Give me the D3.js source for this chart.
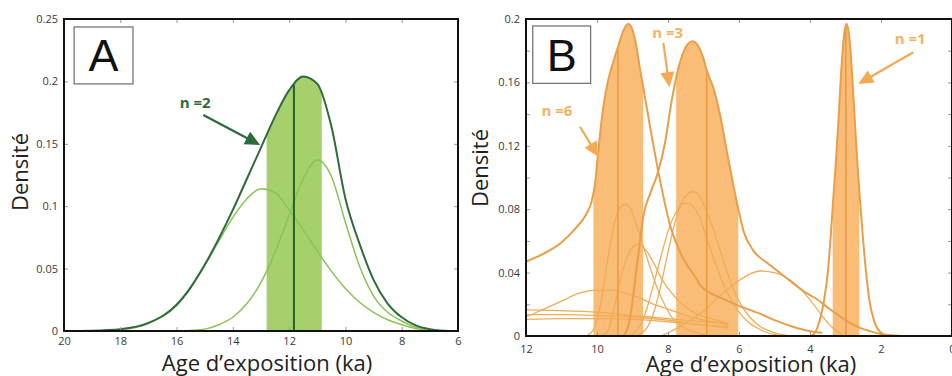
<!DOCTYPE html>
<html><head><meta charset="utf-8">
<script src="https://cdn.jsdelivr.net/npm/d3@7"></script>
<style>body{margin:0;background:#fff} svg{display:block;font-family:"Open Sans",sans-serif}</style>
</head><body>
<svg id="c" width="952" height="376"></svg>
<script>
// ---------- Panel A data ----------
const xTicksA = [20,18,16,14,12,10,8,6];
const yTicksA = [0,0.05,0.1,0.15,0.2,0.25];
const yLabelsA = ["0","0.05","0.1","0.15","0.2","0.25"];
const envA = [[20,0],[19,0.0003],[18,0.0015],[17,0.0065],[16,0.021],[15.5,0.035],[15,0.053],[14.5,0.074],[14,0.097],[13.5,0.122],[13,0.147],[12.5,0.172],[12,0.193],[11.5,0.204],[11,0.198],[10.5,0.164],[10,0.106],[9.5,0.07],[9,0.041],[8.5,0.022],[8,0.011],[7.5,0.0045],[7,0.0015],[6.5,0.0003],[6,0]];
const sampleA1 = [[19,0],[18,0.001],[17,0.006],[16,0.0205],[15.5,0.0345],[15,0.0525],[14.5,0.072],[14,0.091],[13.5,0.106],[13,0.114],[12.5,0.111],[12,0.097],[11.5,0.081],[11,0.064],[10.5,0.048],[10,0.034],[9.5,0.023],[9,0.015],[8.5,0.009],[8,0.005],[7.5,0.002],[7,0.0005],[6.5,0]];
const sampleA2 = [[16,0],[15.5,0.0005],[15,0.0015],[14.5,0.005],[14,0.011],[13.5,0.022],[13,0.039],[12.5,0.063],[12,0.093],[11.5,0.122],[11,0.137],[10.5,0.124],[10,0.087],[9.5,0.052],[9,0.028],[8.5,0.015],[8,0.008],[7.5,0.003],[7,0.001],[6.5,0]];
const bandA = [12.8, 10.84];
const medianA = [11.83, 0.197];
const labelA = {text:"n =2", at:[15.34,0.1785], from:[15.05,0.173], to:[13.03,0.149]};
const boxA = {text:"A", x0:19.64, x1:17.55, y0:0.2436, y1:0.198};

// ---------- Panel B data ----------
const xTicksB = [12,10,8,6,4,2,0];
const yTicksB = [0,0.02,0.04,0.06,0.08,0.1,0.12,0.14,0.16,0.18,0.2];
const yLabelsB = ["0","","0.04","","0.08","","0.12","","0.16","","0.2"];
const envB6 = [[12,0.047],[11.5,0.052],[11,0.059],[10.6,0.068],[10.3,0.077],[10.15,0.085],[10.05,0.097],[9.97,0.115],[9.85,0.14],[9.7,0.16],[9.58,0.17],[9.4,0.183],[9.25,0.193],[9.12,0.197],[9.0,0.193],[8.9,0.184],[8.8,0.17],[8.69,0.156],[8.59,0.143],[8.45,0.125],[8.31,0.108],[8.15,0.09],[7.93,0.069],[7.7,0.055],[7.5,0.046],[7.28,0.039],[7.09,0.032],[6.8,0.027],[6.52,0.024],[6.0,0.019],[5.4,0.014],[5.0,0.01],[4.5,0.006],[4.0,0.003],[3.65,0.002]];
const envB3 = [[9.25,0],[9.1,0.008],[9.0,0.022],[8.9,0.04],[8.8,0.058],[8.7,0.075],[8.5,0.09],[8.3,0.102],[8.1,0.12],[7.9,0.148],[7.75,0.165],[7.6,0.177],[7.45,0.184],[7.32,0.186],[7.15,0.183],[7.0,0.175],[6.9,0.167],[6.7,0.155],[6.52,0.138],[6.33,0.115],[6.15,0.094],[6.0,0.078],[5.87,0.066],[5.6,0.054],[5.2,0.046],[4.8,0.039],[4.46,0.033],[4.1,0.027],[3.79,0.023],[3.45,0.017],[3.13,0.012],[2.85,0.008],[2.57,0.005],[2.3,0.003],[2.0,0.0012],[1.6,0.0003],[1.4,0]];
const envB1 = [[4.0,0],[3.9,0.001],[3.75,0.008],[3.6,0.023],[3.5,0.04],[3.42,0.062],[3.35,0.085],[3.28,0.107],[3.2,0.135],[3.14,0.16],[3.05,0.188],[2.97,0.197],[2.89,0.188],[2.8,0.16],[2.73,0.133],[2.66,0.107],[2.59,0.085],[2.52,0.065],[2.42,0.04],[2.33,0.023],[2.2,0.01],[2.0,0.002],[1.8,0]];
const sampleB1 = [[10.3,0],[10.1,0.004],[9.9,0.02],[9.7,0.048],[9.5,0.072],[9.35,0.081],[9.2,0.083],[9.05,0.08],[8.9,0.071],[8.7,0.057],[8.5,0.043],[8.3,0.03],[8.1,0.02],[7.9,0.012],[7.6,0.006],[7.2,0.002],[6.6,0]];
const sampleB2 = [[9.9,0],[9.7,0.003],[9.55,0.014],[9.4,0.03],[9.2,0.047],[9.0,0.056],[8.85,0.058],[8.65,0.055],[8.4,0.046],[8.2,0.037],[8.0,0.03],[7.6,0.02],[7.2,0.014],[6.8,0.011],[6.3,0.008]];
const sampleB3 = [[8.9,0],[8.6,0.005],[8.4,0.015],[8.2,0.032],[8.0,0.053],[7.8,0.072],[7.6,0.085],[7.3,0.091],[7.1,0.088],[6.9,0.078],[6.7,0.066],[6.5,0.052],[6.3,0.038],[6.0,0.022],[5.7,0.012],[5.4,0.006],[5.0,0.002],[4.5,0]];
const sampleB4 = [[9.1,0],[8.8,0.006],[8.6,0.017],[8.4,0.033],[8.2,0.05],[8.0,0.066],[7.8,0.077],[7.5,0.084],[7.3,0.082],[7.1,0.074],[6.9,0.061],[6.7,0.048],[6.5,0.036],[6.3,0.026],[6.0,0.015],[5.7,0.008],[5.3,0.003],[4.8,0]];
const sampleB5 = [[8.2,0],[8.0,0.002],[7.5,0.008],[7.0,0.016],[6.5,0.026],[6.0,0.035],[5.7,0.039],[5.4,0.041],[5.0,0.04],[4.6,0.036],[4.2,0.028],[3.9,0.02],[3.6,0.011],[3.3,0.004],[3.1,0.001]];
const sampleB6 = [[12,0.012],[11.5,0.017],[11,0.022],[10.5,0.027],[10,0.029],[9.6,0.029],[9.2,0.027],[8.8,0.024],[8.4,0.02],[8,0.017],[7.5,0.013],[7,0.01],[6.5,0.008],[6.3,0.007]];
const sampleB7 = [[12,0.0165],[11,0.016],[10,0.015],[9,0.013],[8,0.011],[7,0.009],[6.3,0.008]];
const sampleB8 = [[12,0.0135],[11,0.0135],[10,0.013],[9,0.012],[8,0.01],[7,0.007],[6.3,0.006]];
const sampleB9 = [[12,0.0105],[11,0.011],[10,0.011],[9,0.0105],[8,0.009],[7,0.007],[6.3,0.005]];
const bandsB = [[10.1,8.7],[7.77,6.02],[3.36,2.61]];
const mediansB = [[9.41,0.181],[6.91,0.167],[2.99,0.197]];
const labelsB = [
  {text:"n =6", at:[11.13,0.139], from:[10.48,0.132], to:[9.96,0.113]},
  {text:"n =3", at:[8.01,0.188], from:[8.13,0.185], to:[7.96,0.157]},
  {text:"n =1", at:[1.18,0.184], from:[1.09,0.179], to:[2.64,0.159]}
];
const boxB = {text:"B", x0:11.81, x1:10.18, y0:0.1956, y1:0.1594};

// ---------- drawing ----------
const svg = d3.select("#c");
const defs = svg.append("defs");

function arrow(g, x1, y1, x2, y2, color, hl, hw, lw){
  const dx=x2-x1, dy=y2-y1, L=Math.hypot(dx,dy), ux=dx/L, uy=dy/L;
  const bx=x2-ux*hl, by=y2-uy*hl;
  g.append("line").attr("x1",x1).attr("y1",y1).attr("x2",bx+ux*2).attr("y2",by+uy*2)
    .attr("stroke",color).attr("stroke-width",lw);
  g.append("path").attr("d",`M${x2},${y2}L${bx-uy*hw},${by+ux*hw}L${bx+uy*hw},${by-ux*hw}Z`).attr("fill",color);
}

function panel(o){
  const {x,y,id} = o;
  const g = svg.append("g");
  const [X0,X1] = x.range(), [Y0,Y1] = y.range();
  const line = d3.line().x(d=>x(d[0])).y(d=>y(d[1])).curve(d3.curveMonotoneX);
  const area = d3.area().x(d=>x(d[0])).y0(y(0)).y1(d=>y(d[1])).curve(d3.curveMonotoneX);

  o.bands.forEach((b,i)=>{
    const cid = `clip${id}${i}`;
    defs.append("clipPath").attr("id",cid).append("rect")
      .attr("x",x(b[0])).attr("y",Y1).attr("width",x(b[1])-x(b[0])).attr("height",Y0-Y1);
    g.append("path").attr("d",area(o.bandEnv[i])).attr("fill",o.fill).attr("clip-path",`url(#${cid})`);
  });
  o.samples.forEach(s=>g.append("path").attr("d",line(s)).attr("fill","none")
    .attr("stroke",o.sampleColor).attr("stroke-width",o.sampleW));
  o.medians.forEach(m=>g.append("line").attr("x1",x(m[0])).attr("x2",x(m[0]))
    .attr("y1",y(0)).attr("y2",y(m[1])).attr("stroke",o.medColor).attr("stroke-width",o.medW));
  o.envs.forEach(e=>g.append("path").attr("d",line(e)).attr("fill","none")
    .attr("stroke",o.envColor).attr("stroke-width",2));

  const ax = g.append("g").attr("transform",`translate(0,${Y0})`)
    .call(d3.axisBottom(x).tickValues(o.xTicks).tickSize(-4).tickPadding(o.xPad).tickFormat(d3.format("d")));
  const ay = g.append("g").attr("transform",`translate(${X0},0)`)
    .call(d3.axisLeft(y).tickValues(o.yTicks).tickSize(-4).tickPadding(6).tickFormat((d,i)=>o.yLabels[i]));
  const at = g.append("g").attr("transform",`translate(0,${Y1})`)
    .call(d3.axisTop(x).tickValues(o.xTicks).tickSize(-4).tickFormat(""));
  const ar = g.append("g").attr("transform",`translate(${X1},0)`)
    .call(d3.axisRight(y).tickValues(o.yTicks).tickSize(-4).tickFormat(""));
  [ax,ay,at,ar].forEach(a=>{
    a.select(".domain").remove();
    a.selectAll(".tick line").attr("stroke","#999").attr("stroke-width",1);
    a.selectAll("text").attr("fill","#3a3a3a").style("font-family","'Open Sans',sans-serif").style("font-size","11px");
  });
  g.append("rect").attr("x",X0).attr("y",Y1).attr("width",X1-X0).attr("height",Y0-Y1)
    .attr("fill","none").attr("stroke","#111").attr("stroke-width",2);

  const b=o.box;
  g.append("rect").attr("x",x(b.x0)).attr("y",y(b.y0)).attr("width",x(b.x1)-x(b.x0)).attr("height",y(b.y1)-y(b.y0))
    .attr("fill","#fff").attr("stroke","#777").attr("stroke-width",1.3);
  g.append("text").attr("x",(x(b.x0)+x(b.x1))/2).attr("y",(y(b.y0)+y(b.y1))/2+16)
    .attr("text-anchor","middle").style("font-family","'Liberation Sans',Arial,sans-serif")
    .style("font-size","45px").attr("fill","#111").text(b.text);

  o.labels.forEach(l=>{
    arrow(g, x(l.from[0]), y(l.from[1]), x(l.to[0]), y(l.to[1]), o.arrowColor, 15, 7, 2.2);
    g.append("text").attr("x",x(l.at[0])).attr("y",y(l.at[1])).attr("text-anchor","middle")
      .style("font-weight","bold").style("font-size","15px").attr("fill",o.textColor).text(l.text);
  });

  g.append("text").attr("transform",`translate(${o.yTitleX},${o.yTitleY}) rotate(-90)`)
    .attr("text-anchor","middle").style("font-size","22px").attr("fill","#222").text("Densité");
  g.append("text").attr("x",o.xTitleX).attr("y",o.xTitleBase).attr("text-anchor","middle")
    .style("font-size","22px").attr("fill","#222").text("Age d’exposition (ka)");
}

const xA = d3.scaleLinear().domain([20,6]).range([64,458]);
const yA = d3.scaleLinear().domain([0,0.25]).range([331,19]);
const xB = d3.scaleLinear().domain([12,0]).range([526,952]);
const yB = d3.scaleLinear().domain([0,0.2]).range([336,19]);

panel({id:"A", x:xA, y:yA, bands:[bandA], bandEnv:[envA], samples:[sampleA1,sampleA2], medians:[medianA],
  envs:[envA], fill:"#a6d06b", sampleColor:"#8cc25a", sampleW:1.5, medColor:"#25612f", medW:2,
  envColor:"#2f6b3c", xTicks:xTicksA, yTicks:yTicksA, yLabels:yLabelsA, xPad:6, box:boxA,
  labels:[labelA], arrowColor:"#2b6a3c", textColor:"#2e6a3d", yTitleX:28, yTitleY:172, xTitleX:267, xTitleBase:371});

panel({id:"B", x:xB, y:yB, bands:bandsB, bandEnv:[envB6,envB3,envB1],
  samples:[sampleB7,sampleB8,sampleB9,sampleB6,sampleB1,sampleB2,sampleB3,sampleB4,sampleB5], medians:mediansB,
  envs:[envB6,envB3,envB1], fill:"#f9bd77", sampleColor:"#f0ad58", sampleW:1.3, medColor:"#ec9b3e", medW:1.6,
  envColor:"#eb9e48", xTicks:xTicksB, yTicks:yTicksB, yLabels:yLabelsB, xPad:9, box:boxB,
  labels:labelsB, arrowColor:"#f4aa52", textColor:"#f0b466", yTitleX:488, yTitleY:168, xTitleX:751, xTitleBase:372});
</script>
</body></html>
